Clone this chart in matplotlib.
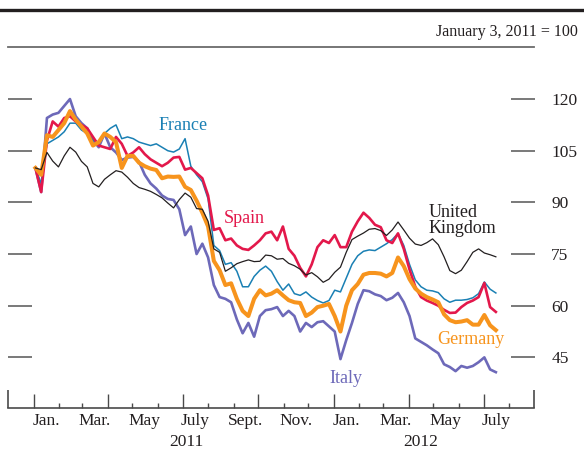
import matplotlib
matplotlib.use("Agg")
import matplotlib.pyplot as plt
from matplotlib.lines import Line2D
import pandas as pd

plt.rcParams["font.family"] = ["Liberation Serif", "DejaVu Serif"]

# Weekly index levels, January 3, 2011 = 100
dates = pd.date_range("2011-01-03", periods=81, freq="7D")

uk = [100, 99.5, 104.5, 102, 100.3, 103.5, 106, 104.6, 101.9, 100.3,
      95.5, 94.5, 96.7, 98, 99.2, 98.8, 97.3, 95.5, 94.3, 93.8,
      93.2, 92.3, 91.3, 89.8, 88.4, 90.8, 92.7, 91.5, 88.2, 88.0,
      84.5, 76.5, 75.5, 70, 71, 72.2, 72.8, 73.3, 72.8, 72.9,
      74.7, 74.5, 73.5, 73.7, 72.3, 71.6, 70.6, 68.9, 69.6, 68.4,
      66.8, 67.7, 69.7, 71.2, 75.5, 79.2, 80.2, 81.1, 82.2, 82.4,
      81.8, 80.4, 82, 84.3, 82, 79.6, 77.9, 77.5, 78.3, 79.4,
      77.7, 74.2, 70.2, 69.3, 70.3, 72.8, 75.5, 76.5, 75.3, 74.8,
      74.2]

france = [100, 95.5, 107, 108, 109, 110.5, 113, 113, 111, 110,
          108, 107.5, 110, 111.5, 112.5, 108.5, 109, 108.5, 107.5, 107,
          106.5, 107, 106, 105, 104.6, 105.5, 108.5, 100.5, 98, 96,
          91, 77.5, 76, 72, 72.5, 70, 65.5, 65.5, 68.5, 70.3,
          71.5, 70, 67, 64.5, 66.3, 63.5, 63, 64, 62.5, 61.5,
          60.8, 61.5, 64.5, 64, 68, 72, 74.5, 75.8, 76.2, 76,
          77, 78, 79.2, 81, 77.5, 72, 67.5, 65.5, 64.5, 64.3,
          63.8, 62, 61, 61.6, 61.6, 61.8, 62.3, 63.5, 66.9, 64.8,
          63.7]

spain = [100, 93, 108, 113.5, 112, 114.5, 115, 113.5, 112.5, 111.5,
         109, 106.5, 106, 105.5, 109, 107, 103.5, 104.5, 106, 104,
         102.5, 101.5, 100.5, 101.5, 103, 103.2, 99.5, 100, 98.5, 97,
         92, 82, 82.5, 79, 79.5, 77.5, 76.5, 76.2, 77.5, 79,
         81, 81.5, 79, 83, 76.5, 74.5, 71, 68.5, 72, 77,
         79, 78.2, 80.5, 77, 77, 81.5, 84.5, 87, 85.5, 83.5,
         82.8, 79, 78.2, 81, 76.5, 70.5, 65.5, 62.5, 61.5, 60.8,
         60, 58.8, 57.9, 58, 59.6, 60.8, 61.5, 62.5, 66.6, 59.6,
         58.2]

germany = [100, 98, 109.5, 109, 111, 113, 116.5, 114, 112, 110,
           106.5, 107.5, 110, 109, 107.5, 100, 103.5, 103.5, 101.5, 100.5,
           99.8, 99.4, 97, 97.5, 97.4, 97.5, 94.5, 93.6, 90.5, 87,
           83, 73, 70.3, 66, 66.5, 62, 58.5, 57, 62, 64.5,
           63, 63.5, 64.5, 63, 61.6, 61, 60.8, 57, 58, 59.6,
           60, 60.5, 57, 52.5, 60, 64.5, 66.3, 69, 69.5, 69.5,
           69.3, 68.5, 69.5, 74, 71.5, 67.7, 65, 63.5, 62.5, 61.8,
           61, 57.5, 55.8, 55.2, 55.4, 55.8, 54.5, 54.5, 57.3, 54.3,
           52.9]

italy = [100, 93, 114.5, 115.5, 116, 118, 120, 115, 113, 111.5,
         108, 106, 110, 106, 104.5, 102.3, 103, 103.2, 101.8, 98,
         95.5, 94, 92, 91, 90.7, 88, 80.5, 83, 75, 78,
         74, 66, 62.5, 62, 61, 56, 52, 55, 51, 57,
         58.7, 59, 59.6, 57, 58.5, 57, 52.5, 55, 53.8, 55.2,
         55.5, 54, 52.5, 44.5, 50, 55, 60.5, 64.5, 64.2, 63.3,
         62.8, 61.6, 62.3, 63.7, 61, 57, 50.5, 49.5, 48.5, 47.3,
         46.2, 43, 42.2, 41, 42.5, 42, 42.5, 43.6, 45, 41.5,
         40.7]

y_ticks = [45, 60, 75, 90, 105, 120]
month_names = ["Jan.", "Mar.", "May", "July", "Sept.", "Nov.",
               "Jan.", "Mar.", "May", "July"]
month_label_dates = pd.to_datetime([
    "2011-01-16", "2011-03-16", "2011-05-16", "2011-07-16", "2011-09-16",
    "2011-11-16", "2012-01-16", "2012-03-16", "2012-05-16", "2012-07-16"])
years = ["2011", "2012"]
year_label_dates = pd.to_datetime(["2011-07-06", "2012-04-15"])

W, H = 584, 451
fig = plt.figure(figsize=(W / 100, H / 100), dpi=100)
ax_left, ax_right, ax_top, ax_bottom = 8.3, 534.5, 46.7, 408
ax = fig.add_axes([ax_left / W, 1 - ax_bottom / H,
                   (ax_right - ax_left) / W, (ax_bottom - ax_top) / H])

series = [
    ("Italy", italy, "#6d69b9", 1.9),
    ("France", france, "#1a80b4", 1.1),
    ("Spain", spain, "#e3184b", 1.9),
    ("Germany", germany, "#f7941d", 2.9),
    ("United Kingdom", uk, "#231f20", 0.9),
]
for name, vals, col, lw in series:
    ax.plot(dates, vals, color=col, lw=lw, solid_joinstyle="round")

ax.set_xlim(pd.Timestamp("2010-12-01"), pd.Timestamp("2012-09-01"))
ax.set_ylim(30.3, 135.2)

# Frame: gray rule on top, axis line at the bottom, short end posts
for s in ["left", "right"]:
    ax.spines[s].set_visible(False)
ax.spines["top"].set_color("#6b6b6b")
ax.spines["top"].set_linewidth(1.3)
ax.spines["bottom"].set_color("#4a4a4a")
ax.spines["bottom"].set_linewidth(1.2)
for xe in ax.get_xlim():
    ax.plot([xe, xe], [0, 0.05], transform=ax.get_xaxis_transform(),
            color="#4a4a4a", lw=1.2, clip_on=False, solid_capstyle="butt")

# Month ticks: quarterly tall, monthly short
month_starts = pd.date_range("2011-01-01", "2012-08-01", freq="MS")
quarters = [d for d in month_starts if d.month in (1, 4, 7, 10)]
others = [d for d in month_starts if d.month not in (1, 4, 7, 10)]
ax.set_xticks(quarters)
ax.set_xticks(others, minor=True)
ax.tick_params(axis="x", which="major", direction="in", length=10,
               width=1.0, color="#4a4a4a", labelbottom=False)
ax.tick_params(axis="x", which="minor", direction="in", length=3.8,
               width=1.0, color="#4a4a4a", labelbottom=False)

for d, lab in zip(month_label_dates, month_names):
    ax.text(d, -0.047, lab, transform=ax.get_xaxis_transform(),
            ha="center", va="baseline", fontsize=12.5, color="#231f20")
for d, lab in zip(year_label_dates, years):
    ax.text(d, -0.105, lab, transform=ax.get_xaxis_transform(),
            ha="center", va="baseline", fontsize=12.5, color="#231f20")

# Value ticks on both sides, labels on the right
ax.set_yticks(y_ticks)
ax.tick_params(axis="y", which="major", left=True, right=True,
               direction="in", length=17.3, width=1.1, color="#555555",
               labelleft=False, labelright=True, pad=12.0,
               labelsize=12.5, labelcolor="#231f20")

# Series labels
ax.text(pd.Timestamp("2011-07-02"), 112.2, "France", color="#1a80b4",
        fontsize=13, ha="center", va="center")
ax.text(pd.Timestamp("2011-09-14"), 85.2, "Spain", color="#e3184b",
        fontsize=13, ha="center", va="center")
ax.text(pd.Timestamp("2012-04-25"), 84.7, "United\nKingdom", color="#231f20",
        fontsize=13, ha="left", va="center", linespacing=0.95)
ax.text(pd.Timestamp("2012-06-16"), 50.3, "Germany", color="#f7941d",
        fontsize=13, ha="center", va="center")
ax.text(pd.Timestamp("2012-01-15"), 39.0, "Italy", color="#6d69b9",
        fontsize=13, ha="center", va="center")

# Heavy rule across the top and the base note
fig.add_artist(Line2D([0, 1], [1 - 10 / H] * 2, transform=fig.transFigure,
                      color="#231f20", lw=2.4))
fig.text(578 / W, 1 - 36 / H, "January 3, 2011 = 100", ha="right",
         va="baseline", fontsize=11.5, color="#231f20")

fig.savefig("out.png", dpi=100)
